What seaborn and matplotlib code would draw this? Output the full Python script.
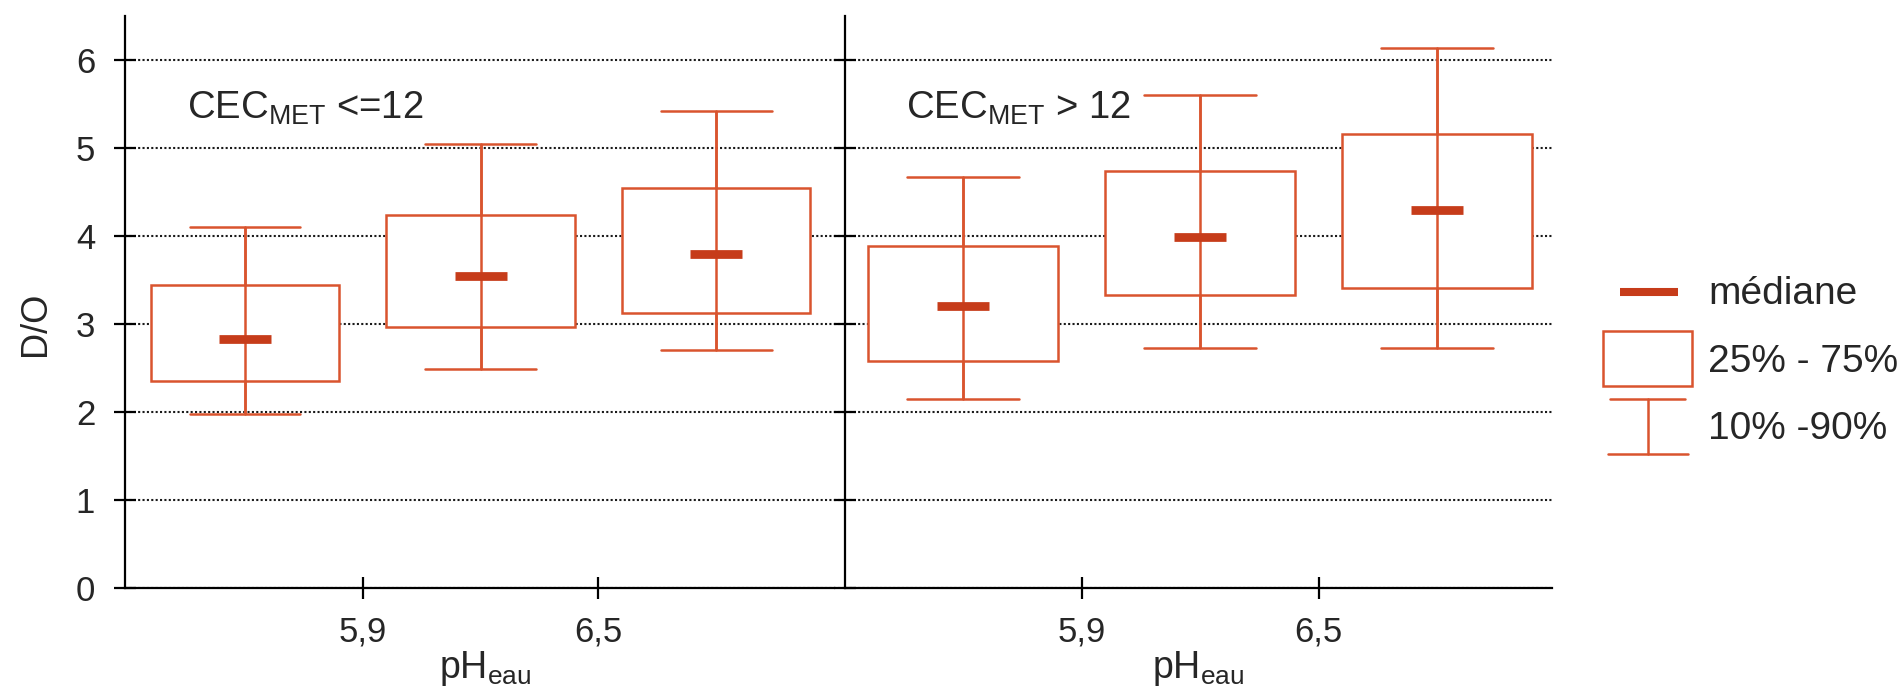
import numpy as np
import pandas as pd
import matplotlib
matplotlib.use("Agg")
import matplotlib.pyplot as plt
from matplotlib.lines import Line2D
from matplotlib.patches import Rectangle, Patch
from matplotlib.legend_handler import HandlerBase
import seaborn as sns

# pH classes (x categories) and tick labels at the class limits
classes = ["<5,9", "5,9-6,5", ">6,5"]
tick_labels = ["5,9", "6,5"]
panels = ["low", "high"]
panel_titles = [r"CEC$_{\mathregular{MET}}$ <=12", r"CEC$_{\mathregular{MET}}$ > 12"]

# D/O percentiles, CEC_MET <= 12
p10_low = [1.98, 2.49, 2.70]
q1_low = [2.35, 2.97, 3.13]
med_low = [2.83, 3.55, 3.79]
q3_low = [3.44, 4.24, 4.54]
p90_low = [4.10, 5.04, 5.42]

# D/O percentiles, CEC_MET > 12
p10_high = [2.15, 2.73, 2.73]
q1_high = [2.58, 3.33, 3.41]
med_high = [3.20, 3.99, 4.30]
q3_high = [3.89, 4.74, 5.16]
p90_high = [4.67, 5.60, 6.14]

BOX = "#D9542E"
MED = "#C63C1A"
LW = 1.8

df = pd.DataFrame({
    "panel": ["low"] * 3 + ["high"] * 3,
    "classe": classes * 2,
    "p10": p10_low + p10_high,
    "q1": q1_low + q1_high,
    "med": med_low + med_high,
    "q3": q3_low + q3_high,
    "p90": p90_low + p90_high,
})


class SymbolHandler(HandlerBase):
    # legend glyphs: median bar, box, 10-90 whisker
    def __init__(self, kind):
        super().__init__()
        self.kind = kind

    def create_artists(self, legend, orig_handle, xdescent, ydescent,
                       width, height, fontsize, trans):
        x0, y0 = -xdescent, -ydescent
        if self.kind == "med":
            return [Line2D([x0 + 0.19 * width, x0 + 0.84 * width], [y0 + height / 2] * 2,
                           lw=5.8, color=MED, solid_capstyle="butt", transform=trans)]
        if self.kind == "box":
            return [Rectangle((x0, y0), width, height, facecolor="white",
                              edgecolor=BOX, lw=LW, transform=trans)]
        xc = x0 + width / 2
        return [Line2D([x0 + 0.08 * width, x0 + 0.92 * width], [y0 + height] * 2, lw=LW, color=BOX, transform=trans),
                Line2D([x0 + 0.06 * width, x0 + 0.95 * width], [y0, y0], lw=LW, color=BOX, transform=trans),
                Line2D([xc, xc], [y0, y0 + height], lw=LW, color=BOX, transform=trans)]


sns.set_style("white")
plt.rcParams["font.family"] = ["Liberation Sans", "DejaVu Sans"]

fig = plt.figure(figsize=(19.01, 6.86), dpi=100)
ax1 = fig.add_axes([125 / 1901, 98 / 686, 720 / 1901, 572 / 686])
ax2 = fig.add_axes([845 / 1901, 98 / 686, 707 / 1901, 572 / 686])
axes = [ax1, ax2]
xlims = [(-0.51, 2.547), (-0.498, 2.485)]

for ax, name, title, xl in zip(axes, panels, panel_titles, xlims):
    sub = df[df["panel"] == name].reset_index(drop=True)
    pos = np.arange(len(sub))
    stats = [dict(med=r.med, q1=r.q1, q3=r.q3, whislo=r.p10, whishi=r.p90, fliers=[])
             for r in sub.itertuples()]
    ax.bxp(stats, positions=pos, widths=0.8, capwidths=0.47, patch_artist=True,
           showfliers=False, manage_ticks=False,
           boxprops=dict(facecolor="white", edgecolor=BOX, linewidth=LW, zorder=2),
           whiskerprops=dict(color=BOX, linewidth=LW, zorder=3),
           capprops=dict(color=BOX, linewidth=LW, zorder=3),
           medianprops=dict(visible=False))
    # whisker line runs through the box
    ax.vlines(pos, sub["p10"], sub["p90"], color=BOX, lw=LW, zorder=3)
    # short thick median bars
    sns.pointplot(data=sub, x="classe", y="med", order=classes, marker="_",
                  linestyle="none", errorbar=None, color=MED,
                  markersize=38, markeredgewidth=6.3, ax=ax, zorder=4)

    ax.set_xlim(*xl)
    ax.set_ylim(0, 6.5)
    ax.set_xticks([0.5, 1.5])
    ax.set_xticklabels(tick_labels)
    ax.set_yticks(range(0, 7))
    ax.yaxis.grid(True, linestyle=(0, (1, 1.1)), color="#1a1a1a", lw=1.5)
    ax.xaxis.grid(False)
    ax.set_axisbelow(True)
    for s in ["top", "right"]:
        ax.spines[s].set_visible(False)
    for s in ["left", "bottom"]:
        ax.spines[s].set_color("black")
        ax.spines[s].set_linewidth(1.6)
    ax.tick_params(direction="inout", length=16, width=1.6, color="black",
                   labelsize=25, left=True, bottom=True)
    ax.tick_params(axis="x", pad=12)
    ax.tick_params(axis="y", pad=13.5)
    ax.set_xlabel(r"pH$_{\mathregular{eau}}$", fontsize=27)
    ax.xaxis.set_label_coords(0.5, -0.107)
    ax.text(0.086, 0.838, title, transform=ax.transAxes, fontsize=27.5, va="center", ha="left")

ax1.spines["bottom"].set_bounds(-0.51, 2.5)
ax1.set_ylabel("D/O", fontsize=26)
ax1.yaxis.set_label_coords(-0.1, 0.4615)
ax2.set_ylabel("")
ax2.tick_params(labelleft=False)

h_med, h_box, h_wh = Line2D([], []), Patch(), Line2D([], [])
fig.legend([h_med, h_box, h_wh], ["médiane", "25% - 75%", "10% -90%"],
           handler_map={h_med: SymbolHandler("med"), h_box: SymbolHandler("box"),
                        h_wh: SymbolHandler("wh")},
           loc="center left", bbox_to_anchor=(1603 / 1901, 0.4767), frameon=False,
           fontsize=28, handlelength=2.29, handleheight=1.8, handletextpad=0.41,
           labelspacing=0.31, borderpad=0, borderaxespad=0)

fig.savefig("out.png", dpi=100)
